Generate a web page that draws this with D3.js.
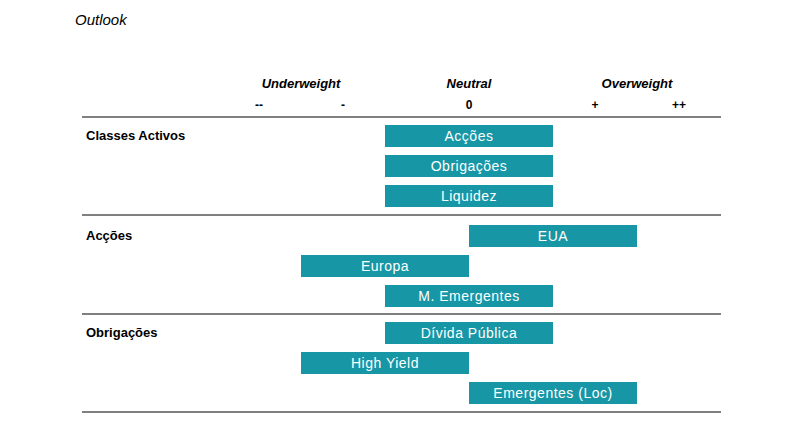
<!DOCTYPE html>
<html><head><meta charset="utf-8">
<script src="https://cdn.jsdelivr.net/npm/d3@7"></script>
<style>body{margin:0;background:#fff}text{font-family:Arial,"Liberation Sans",sans-serif}</style>
</head><body>
<script>
var groups = ["Classes Activos", "Acções", "Obrigações"];
var items = ["Acções", "Obrigações", "Liquidez", "EUA", "Europa", "M. Emergentes", "Dívida Pública", "High Yield", "Emergentes (Loc)"];
var itemGroup = [0, 0, 0, 1, 1, 1, 2, 2, 2];
var views = [0, 0, 0, 1, -1, 0, 0, -1, 1];
var tickVals = [-2.5, -1.5, 0, 1.5, 2.5];
var tickLabels = ["--", "-", "0", "+", "++"];
var headVals = [-2, 0, 2];
var headLabels = ["Underweight", "Neutral", "Overweight"];

var width = 800, height = 435;
var svg = d3.select("body").append("svg").attr("width", width).attr("height", height);
var x = d3.scaleLinear().domain([-2, 2]).range([301, 637]);
var rowY = [136, 166, 196, 236, 266, 296, 333, 363, 393];
var lines = [117, 215, 314, 412];
var groupY = [136, 236, 333];

svg.append("text").attr("x", 75).attr("y", 25).attr("font-style", "italic")
  .attr("font-size", 15).text("Outlook");

svg.selectAll(".head").data(headLabels).enter().append("text")
  .attr("x", function(d, i) { return x(headVals[i]); }).attr("y", 88)
  .attr("text-anchor", "middle").attr("font-weight", "bold").attr("font-style", "italic")
  .attr("font-size", 13).text(function(d) { return d; });

svg.selectAll(".tick").data(tickLabels).enter().append("text")
  .attr("x", function(d, i) { return x(tickVals[i]); }).attr("y", 109)
  .attr("text-anchor", "middle").attr("font-weight", "bold")
  .attr("font-size", 12).text(function(d) { return d; });

svg.selectAll(".sep").data(lines).enter().append("line")
  .attr("x1", 82).attr("x2", 721).attr("y1", function(d) { return d; }).attr("y2", function(d) { return d; })
  .attr("stroke", "#000").attr("stroke-width", 1);

svg.selectAll(".grp").data(groups).enter().append("text")
  .attr("x", 86).attr("y", function(d, i) { return groupY[i] + 4; })
  .attr("font-weight", "bold").attr("font-size", 13).text(function(d) { return d; });

svg.selectAll(".bar").data(items).enter().append("rect")
  .attr("x", function(d, i) { return x(views[i] - 1); })
  .attr("width", function(d, i) { return x(views[i] + 1) - x(views[i] - 1); })
  .attr("y", function(d, i) { return rowY[i] - 11; }).attr("height", 22)
  .attr("fill", "#1796a6");

svg.selectAll(".lab").data(items).enter().append("text")
  .attr("x", function(d, i) { return x(views[i]); })
  .attr("y", function(d, i) { return rowY[i] + 5; })
  .attr("text-anchor", "middle").attr("fill", "#fff").attr("font-size", 14)
  .attr("letter-spacing", 0.5).text(function(d) { return d; });
</script>
</body></html>
